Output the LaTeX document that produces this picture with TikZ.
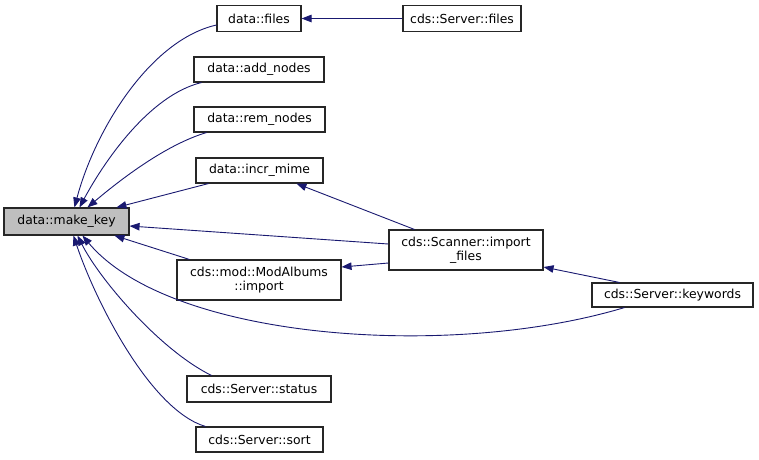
\documentclass[tikz,border=0pt]{standalone}
\usepackage{fontspec}
\setmainfont{DejaVu Sans}
\usetikzlibrary{arrows.meta}
\definecolor{edgeblue}{HTML}{191970}
\definecolor{boxgray}{HTML}{BFBFBF}
\tikzset{
  fn/.style={draw=black!85, line width=1.1pt, fill=white, rectangle, inner sep=0pt,
    font=\fontsize{12.4}{14.5}\selectfont, align=center},
  edge/.style={draw=edgeblue, line width=0.9pt, -{Triangle[length=10pt,width=7.5pt]}},
}
\begin{document}
\begin{tikzpicture}[x=1pt,y=-1pt]
\useasboundingbox (0,0) rectangle (759,459);
% nodes
\node[fn, fill=boxgray, minimum width=125pt, minimum height=27pt] (mk) at (66.5,221.5) {data::make\_key};
\node[fn, minimum width=84pt, minimum height=26pt] (files) at (259,18.5) {data::files};
\node[fn, minimum width=118pt, minimum height=26pt] (sfiles) at (462,18.5) {cds::Server::files};
\node[fn, minimum width=130pt, minimum height=25pt] (add) at (259,69.5) {data::add\_nodes};
\node[fn, minimum width=131pt, minimum height=25pt] (rem) at (259.5,119.5) {data::rem\_nodes};
\node[fn, minimum width=127pt, minimum height=25pt] (incr) at (259.5,170.5) {data::incr\_mime};
\node[fn, minimum width=154pt, minimum height=40pt] (scan) at (466,250) {cds::Scanner::import\\\_files};
\node[fn, minimum width=164pt, minimum height=40pt] (mod) at (259,280) {cds::mod::ModAlbums\\::import};
\node[fn, minimum width=161pt, minimum height=24pt] (kw) at (672.5,295) {cds::Server::keywords};
\node[fn, minimum width=144pt, minimum height=26pt] (status) at (259,389) {cds::Server::status};
\node[fn, minimum width=127pt, minimum height=25pt] (sort) at (259.5,439.5) {cds::Server::sort};
% tip coordinates on make_key
\coordinate (t1) at ([xshift=71pt]mk.north west);
\coordinate (t2) at ([xshift=76pt]mk.north west);
\coordinate (t3) at ([xshift=84pt]mk.north west);
\coordinate (t4) at ([xshift=113pt]mk.north west);
\coordinate (t5) at ([yshift=-4.5pt]mk.east);
\coordinate (b1) at ([xshift=111pt]mk.south west);
\coordinate (b2) at ([xshift=79pt]mk.south west);
\coordinate (b3) at ([xshift=74pt]mk.south west);
\coordinate (b4) at ([xshift=70pt]mk.south west);
% edges into make_key
\draw[edge] ([yshift=-6.5pt]files.west) .. controls (150,40) and (95,130) .. (t1);
\draw[edge] ([xshift=8pt]add.south west) .. controls (150,95) and (105,160) .. (t2);
\draw[edge] ([xshift=13pt]rem.south west) .. controls (165,145) and (120,180) .. (t3);
\draw[edge] ([xshift=13pt]incr.south west) -- (t4);
\draw[edge] ([yshift=6pt]scan.west) -- (t5);
\draw[edge] ([xshift=13pt]mod.north west) -- (b1);
\draw[edge] ([xshift=33pt]kw.south west) .. controls (450,360) and (170,340) .. (b2);
\draw[edge] ([xshift=25pt]status.north west) .. controls (160,350) and (100,280) .. (b3);
\draw[edge] ([xshift=10pt]sort.north west) .. controls (150,410) and (95,300) .. (b4);
% other edges
\draw[edge] (sfiles.west) -- (files.east);
\draw[edge] ([xshift=26pt]scan.north west) -- ([xshift=101pt]incr.south west);
\draw[edge] ([yshift=-13pt]scan.west) -- ([yshift=13pt]mod.east);
\draw[edge] ([xshift=28pt]kw.north west) -- ([yshift=-17pt]scan.east);
\end{tikzpicture}
\end{document}
